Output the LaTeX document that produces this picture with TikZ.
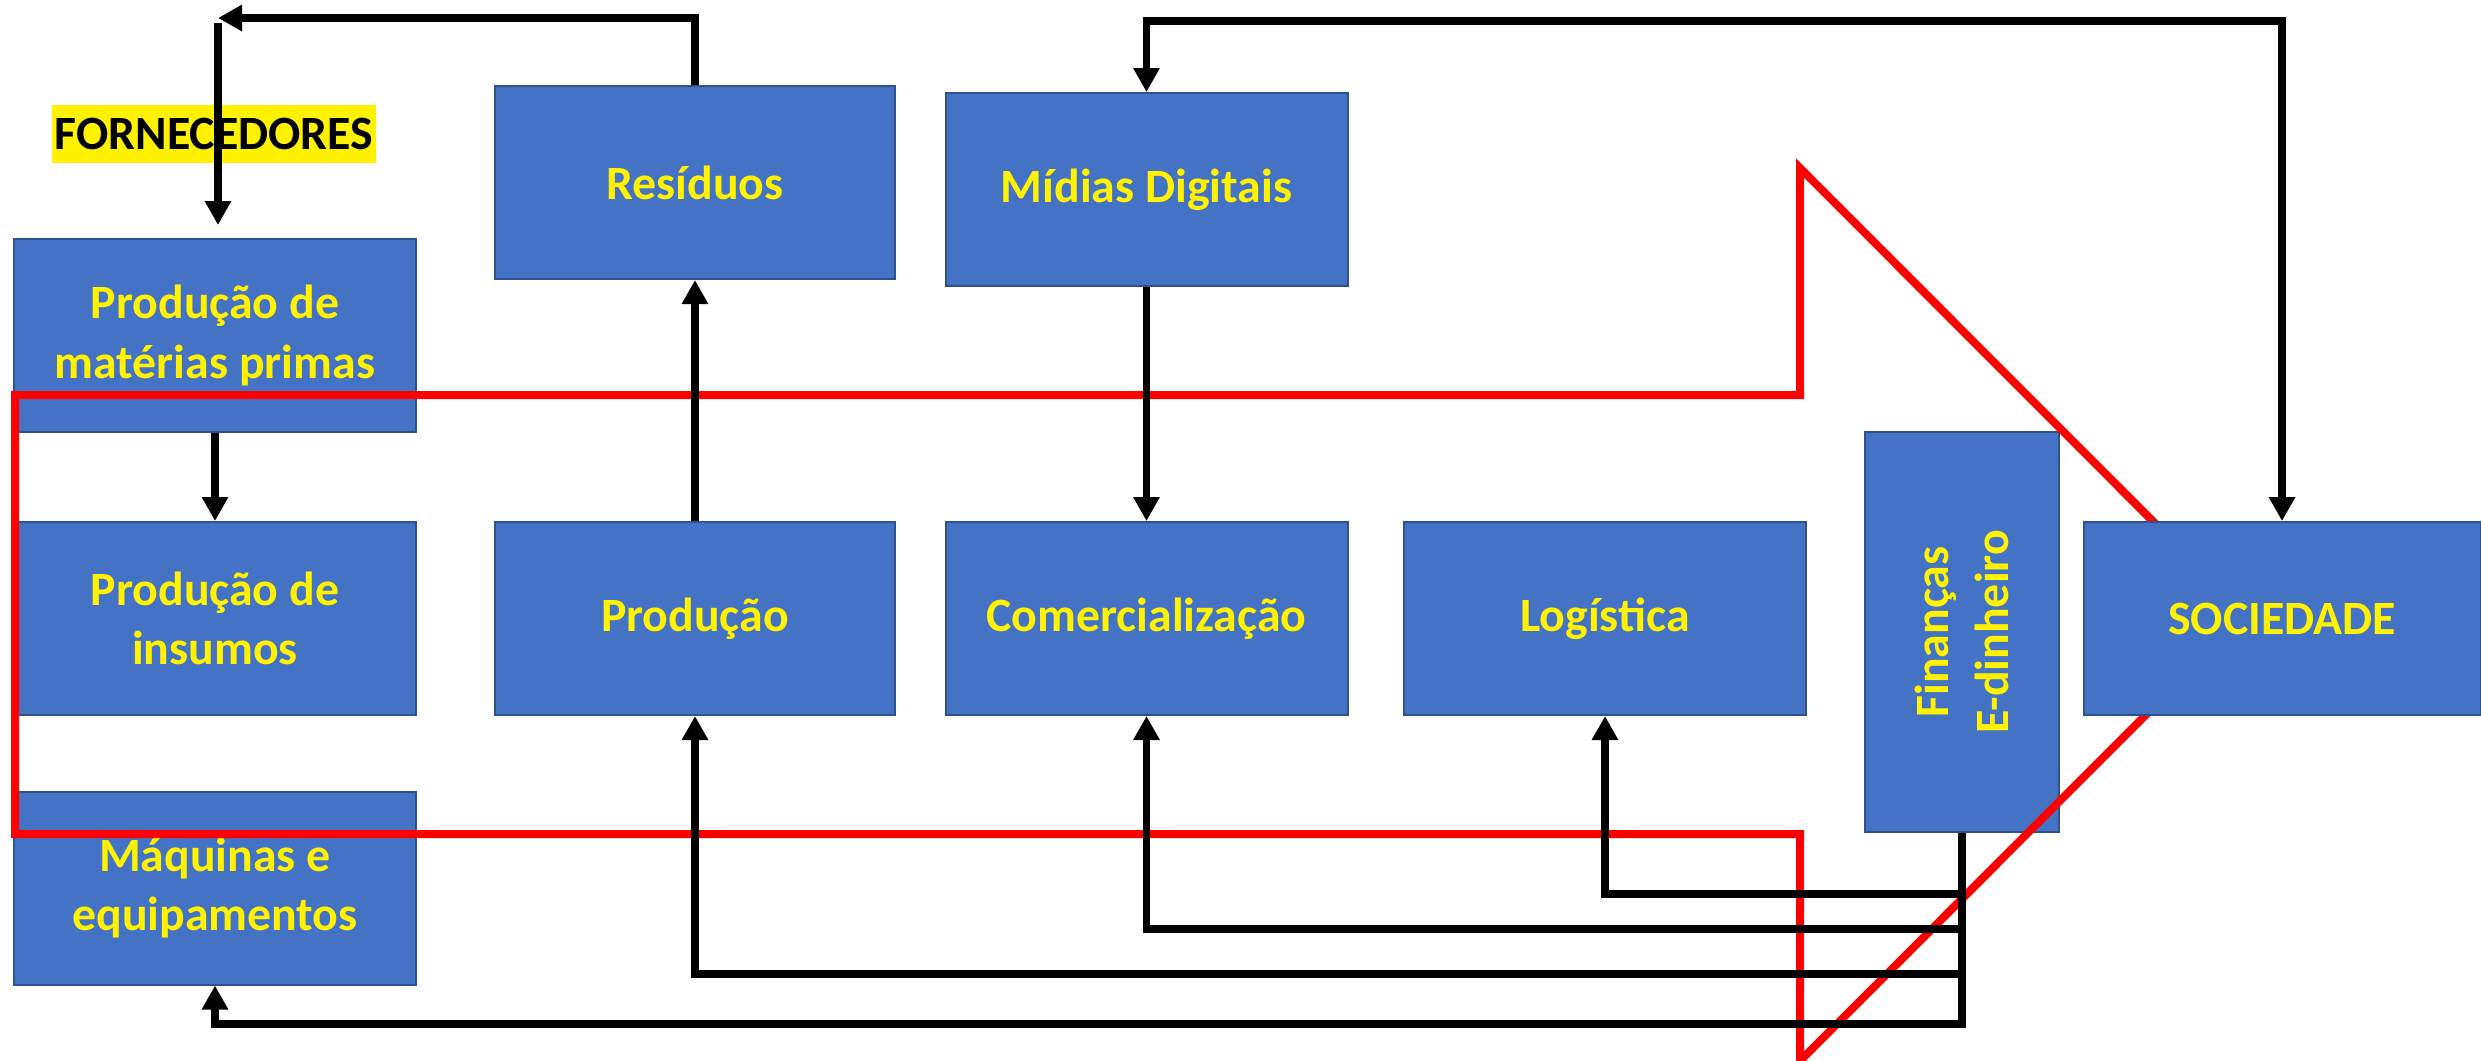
\documentclass[tikz,border=0pt]{standalone}
\usepackage{fontspec}
\setmainfont{Carlito}
\usetikzlibrary{arrows.meta}

\definecolor{caixa}{HTML}{4472C4}
\definecolor{borda}{HTML}{2F528F}

\tikzset{
  texto/.style={font=\bfseries\fontsize{13.6}{17}\selectfont},
  bloco/.style={texto, draw=borda, line width=0.2mm, fill=caixa, text=yellow,
    align=center, inner sep=0pt, minimum width=40.2mm, minimum height=19.3mm},
  fluxo/.style={line width=0.72mm},
}

\begin{document}
\begin{tikzpicture}[x=0.1mm, y=-0.1mm, >={Triangle[length=2.4mm,width=2.5mm]}]

        \useasboundingbox (0,0) rectangle (2481,1060);

        % Blocks
        \node[bloco] (pmp) at (215,335.5) {Produção de\\matérias primas};
        \node[bloco] (ins) at (215,618.5) {Produção de\\insumos};
        \node[bloco] (maq) at (215,888) {Máquinas e\\equipamentos};
        \node[bloco, minimum width=40mm] (res) at (695,182.5) {Resíduos};
        \node[bloco] (mid) at (1146.5,189.5) {Mídias Digitais};
        \node[bloco, minimum width=40mm] (prod) at (695,618.5) {Produção};
        \node[bloco] (com) at (1146.5,618.5) {Comercialização};
        \node[bloco] (log) at (1605,618.5) {Logística};
        \node[bloco, minimum width=19.4mm, minimum height=40mm] (fin) at (1962,632) {};
        \node[texto, text=yellow, rotate=90, align=center] (fintxt) at (fin) {Finanças\\E-dinheiro};

        % Suppliers
        \node[texto, fill=yellow, minimum height=5.8mm, inner xsep=0.3mm, inner ysep=0pt] (forn) at (214,134) {FORNECEDORES};

        % Red arrow
        \draw[red, line width=0.8mm] (15,395) -- (1800,395) -- (1800,168) -- (2246,614.5)
              -- (1800,1061) -- (1800,834) -- (15,834) -- cycle;

        \node[bloco, minimum width=39.7mm] (soc) at (2282,618.5) {SOCIEDADE};

        % Connections
        \coordinate (topo1) at (218,18);
        \coordinate (topo2) at (1700,21);
        \draw[fluxo, ->] (res.north) |- (topo1);
        \draw[fluxo, ->, shorten <=0.5mm, shorten >=1.3mm] (topo1) -- (topo1 |- pmp.north);
        \draw[fluxo, <->] (mid.north) |- (topo2) -| (soc.north);
        \draw[fluxo, ->] (pmp) -- (ins);
        \draw[fluxo, ->] (prod) -- (res);
        \draw[fluxo, ->] (mid) -- (com);

        % Money flows
        \draw[fluxo, ->] (fin.south) -- ++(0,61) -| (log.south);
        \draw[fluxo, ->] (fin.south) -- ++(0,96) -| (com.south);
        \draw[fluxo, ->] (fin.south) -- ++(0,141) -| (prod.south);
        \draw[fluxo, ->] (fin.south) -- ++(0,191) -| (maq.south);
    \end{tikzpicture}
\end{document}
